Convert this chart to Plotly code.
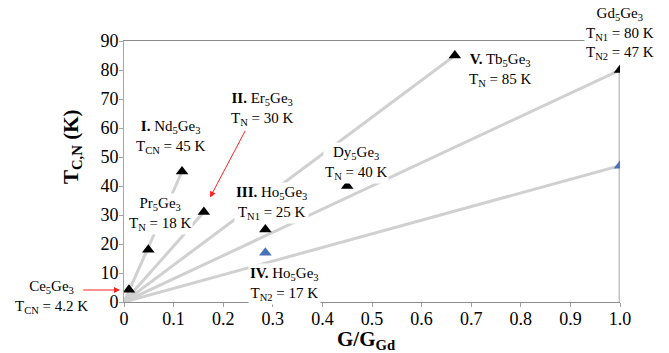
import plotly.graph_objects as go

# ---------------- data ----------------
compounds = ["Ce5Ge3", "Pr5Ge3", "Nd5Ge3", "Er5Ge3", "Ho5Ge3", "Dy5Ge3", "Tb5Ge3", "Gd5Ge3"]
g_ratio = [0.01, 0.049, 0.117, 0.161, 0.285, 0.45, 0.667, 1.0]
t_order = [4.2, 18, 45, 31, 25, 40, 85, 80]          # T_CN / T_N / T_N1 (K)
g_ratio_2 = [0.285, 1.0]                              # Ho5Ge3, Gd5Ge3
t_order_2 = [17, 47]                                  # T_N2 (K)
origin = (0.0, 0.0)
trend_end_x = [0.117, 0.161, 0.667, 1.0, 1.0]
trend_end_y = [45, 31, 85, 80, 47]
gd_g, gd_tn1 = 1.0, 80
x_ticks = [0, 0.1, 0.2, 0.3, 0.4, 0.5, 0.6, 0.7, 0.8, 0.9, 1.0]
x_ticktext = ["0", "0.1", "0.2", "0.3", "0.4", "0.5", "0.6", "0.7", "0.8", "0.9", "1.0"]
y_ticks = [0, 10, 20, 30, 40, 50, 60, 70, 80, 90]

SERIF = "Liberation Serif"
LINE_GREY = "#d0d0d0"

fig = go.Figure()

for ex, ey in zip(trend_end_x, trend_end_y):
    fig.add_trace(go.Scatter(x=[origin[0], ex], y=[origin[1], ey], mode="lines",
                             line=dict(color=LINE_GREY, width=3), hoverinfo="skip"))
fig.add_trace(go.Scatter(x=[gd_g, gd_g], y=[origin[1], gd_tn1], mode="lines",
                         line=dict(color="#c4c4c4", width=3), hoverinfo="skip"))

fig.add_trace(go.Scatter(x=g_ratio, y=t_order, mode="markers", text=compounds,
                         marker=dict(symbol="triangle-up", size=11, color="black")))
fig.add_trace(go.Scatter(x=g_ratio_2, y=t_order_2, mode="markers",
                         marker=dict(symbol="triangle-up", size=11, color="#4a72b8")))

# ---------------- labels (paper coordinates) ----------------
# plot area: 496 px wide, 261 px tall
def px_to_paper(px, py):
    return (px - 124) / 496.0, (302 - py) / 261.0

labels = [
    (170, 136.5, "<b>I.</b> Nd<sub>5</sub>Ge<sub>3</sub><br>T<sub>CN</sub> = 45 K"),
    (262, 109, "<b>II.</b> Er<sub>5</sub>Ge<sub>3</sub><br>T<sub>N</sub> = 30 K"),
    (160, 214, "Pr<sub>5</sub>Ge<sub>3</sub><br>T<sub>N</sub> = 18 K"),
    (271.5, 203.3, "<b>III.</b> Ho<sub>5</sub>Ge<sub>3</sub><br>T<sub>N1</sub> = 25 K"),
    (284, 284, "<b>IV.</b> Ho<sub>5</sub>Ge<sub>3</sub><br>T<sub>N2</sub> = 17 K"),
    (51.5, 296.5, "Ce<sub>5</sub>Ge<sub>3</sub><br>T<sub>CN</sub> = 4.2 K"),
    (356, 162.5, "Dy<sub>5</sub>Ge<sub>3</sub><br>T<sub>N</sub> = 40 K"),
    (500, 70.5, "<b>V.</b> Tb<sub>5</sub>Ge<sub>3</sub><br>T<sub>N</sub> = 85 K"),
    (619.5, 33.5, "Gd<sub>5</sub>Ge<sub>3</sub><br>T<sub>N1</sub> = 80 K<br>T<sub>N2</sub> = 47 K"),
]
annotations = []
for lx, ly, txt in labels:
    px, py = px_to_paper(lx, ly)
    annotations.append(dict(x=px, y=py, xref="paper", yref="paper", text=txt, showarrow=False,
                            xanchor="center", yanchor="middle",
                            font=dict(family=SERIF, size=15, color="black"),
                            bgcolor="white", borderpad=1, align="center"))

# red arrows (head px, tail px)
arrows = [
    ((210, 197.5), (246, 129.3)),
    ((120, 290), (81.7, 290)),
]
for (hx, hy), (tx, ty) in arrows:
    hpx, hpy = px_to_paper(hx, hy)
    annotations.append(dict(x=hpx, y=hpy, ax=tx - hx, ay=ty - hy, xref="paper", yref="paper",
                            axref="pixel", ayref="pixel",
                            text="", showarrow=True, arrowhead=2, arrowsize=1.2, arrowwidth=1,
                            arrowcolor="#ff2020"))

# axis titles
tx, ty = px_to_paper(72, 147)
annotations.append(dict(x=tx, y=ty, xref="paper", yref="paper", textangle=-90,
                        xanchor="center", yanchor="middle",
                        text="<b>T<sub>C,N</sub> (K)</b>", showarrow=False,
                        font=dict(family=SERIF, size=21, color="black")))
tx, ty = px_to_paper(366, 340)
annotations.append(dict(x=tx, y=ty, xref="paper", yref="paper",
                        xanchor="center", yanchor="middle",
                        text="<b>G/G<sub>Gd</sub></b>", showarrow=False,
                        font=dict(family=SERIF, size=21, color="black")))

fig.update_layout(
    width=669, height=353,
    margin=dict(l=124, r=49, t=41, b=51),
    paper_bgcolor="white", plot_bgcolor="white",
    showlegend=False,
    annotations=annotations,
    xaxis=dict(range=[0, 1], tickvals=x_ticks, ticktext=x_ticktext, showgrid=False,
               zeroline=False, showline=True, linecolor="#8c8c8c", linewidth=1, mirror=True,
               ticks="outside", ticklen=4, tickcolor="#a0a0a0", ticklabelstandoff=-4,
               tickfont=dict(family=SERIF, size=18, color="black")),
    yaxis=dict(range=[0, 90], tickvals=y_ticks, showgrid=False, zeroline=False,
               showline=True, linecolor="#a6a6a6", linewidth=1,
               ticks="outside", ticklen=4, tickcolor="#a6a6a6", ticklabelstandoff=-3,
               tickfont=dict(family=SERIF, size=18, color="black")),
)

fig.write_html("out.html", config={"displayModeBar": False},
               post_script="document.body.style.margin='0px';")
